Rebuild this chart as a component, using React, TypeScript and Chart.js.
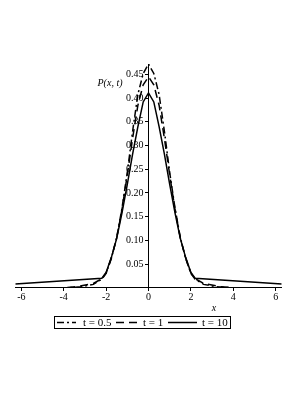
import React, { useEffect, useRef } from 'react';
import { Chart, registerables } from 'chart.js';

Chart.register(...registerables);

const seriesLabels = ['t = 0.5', 't = 1', 't = 10'];

const xT05 = [-6.283, -3.8, -3.2, -2.6, -2.2, -2.0, -1.75, -1.5, -1.25, -1.0, -0.75, -0.5, -0.25, 0, 0.25, 0.5, 0.75, 1.0, 1.25, 1.5, 1.75, 2.0, 2.2, 2.6, 3.2, 3.8, 6.283];
const yT05 = [0, 0, 0.002, 0.007, 0.018, 0.03, 0.062, 0.106, 0.168, 0.243, 0.33, 0.408, 0.452, 0.472, 0.452, 0.408, 0.33, 0.243, 0.168, 0.106, 0.062, 0.03, 0.018, 0.007, 0.002, 0, 0];

const xT1 = [-6.283, -4.0, -3.4, -2.6, -2.2, -2.0, -1.75, -1.5, -1.25, -1.0, -0.75, -0.5, -0.25, 0, 0.25, 0.5, 0.75, 1.0, 1.25, 1.5, 1.75, 2.0, 2.2, 2.6, 3.4, 4.0, 6.283];
const yT1 = [0, 0, 0.002, 0.009, 0.019, 0.031, 0.063, 0.105, 0.165, 0.238, 0.315, 0.385, 0.428, 0.445, 0.428, 0.385, 0.315, 0.238, 0.165, 0.105, 0.063, 0.031, 0.019, 0.009, 0.002, 0, 0];

const xT10 = [-6.283, -2.2, -2.0, -1.75, -1.5, -1.25, -1.0, -0.75, -0.5, -0.25, 0, 0.25, 0.5, 0.75, 1.0, 1.25, 1.5, 1.75, 2.0, 2.2, 6.283];
const yT10 = [0.008, 0.02, 0.032, 0.064, 0.104, 0.158, 0.218, 0.282, 0.34, 0.392, 0.411, 0.392, 0.34, 0.282, 0.218, 0.158, 0.104, 0.064, 0.032, 0.02, 0.008];

const xMin = -6.283;
const xMax = 6.283;
const yMin = 0;
const yMax = 0.472;
const xTickStep = 2;
const yTickStep = 0.05;

const yAxisLabel = 'P(x, t)';
const xAxisLabel = 'x';

const toPoints = (xs: number[], ys: number[]) => xs.map((x, i) => ({ x, y: ys[i] }));

const dashes = [[7, 3, 2, 3], [8, 5], []];

const decorPlugin = {
  id: 'decor',
  afterDraw(chart: any) {
    const ctx = chart.ctx as CanvasRenderingContext2D;
    ctx.save();
    ctx.fillStyle = '#000';
    ctx.strokeStyle = '#000';
    ctx.font = 'italic 10px "Liberation Serif"';
    ctx.textAlign = 'center';
    ctx.textBaseline = 'middle';
    ctx.fillText(yAxisLabel, 110, 83);
    ctx.fillText(xAxisLabel, 214, 308);
    ctx.lineWidth = 1;
    ctx.setLineDash([]);
    ctx.strokeRect(54.5, 316.5, 176, 12);
    const lineSeg = [[57, 76], [116, 137], [168, 197]];
    const textX = [83, 143, 202];
    ctx.font = '11px "Liberation Serif"';
    ctx.textAlign = 'left';
    chart.data.datasets.forEach((ds: any, i: number) => {
      ctx.save();
      ctx.lineWidth = 1.5;
      ctx.setLineDash(ds.borderDash || []);
      ctx.beginPath();
      ctx.moveTo(lineSeg[i][0], 322.5);
      ctx.lineTo(lineSeg[i][1], 322.5);
      ctx.stroke();
      ctx.restore();
      ctx.fillText(ds.label, textX[i], 323);
    });
    ctx.restore();
  },
};

export default function App() {
  const ref = useRef<HTMLCanvasElement>(null);
  useEffect(() => {
    if (!ref.current) return;
    const chart = new Chart(ref.current, {
      type: 'line',
      data: {
        datasets: [
          { label: seriesLabels[0], data: toPoints(xT05, yT05) },
          { label: seriesLabels[1], data: toPoints(xT1, yT1) },
          { label: seriesLabels[2], data: toPoints(xT10, yT10) },
        ].map((d, i) => ({
          ...d,
          borderColor: '#000',
          backgroundColor: '#000',
          borderWidth: 1.5,
          borderDash: dashes[i],
          pointRadius: 0,
          tension: 0,
          fill: false,
        })),
      },
      options: {
        responsive: false,
        animation: false,
        layout: { padding: { left: 15.3, right: 23.3, top: 64, bottom: 107.3 } },
        plugins: { legend: { display: false }, tooltip: { enabled: false }, title: { display: false } },
        scales: {
          x: {
            type: 'linear',
            position: { y: 0 } as any,
            min: xMin,
            max: xMax,
            grid: { display: true, drawOnChartArea: false, drawTicks: true, tickLength: 3, color: '#000' },
            border: { display: true, color: '#000', width: 1 },
            ticks: {
              stepSize: xTickStep,
              includeBounds: false,
              padding: 1,
              color: '#000',
              font: { family: '"Liberation Serif"', size: 10 },
              maxRotation: 0,
              callback: (v: any) => String(v),
            },
          },
          y: {
            type: 'linear',
            position: { x: 0 } as any,
            min: yMin,
            max: yMax,
            grid: { display: true, drawOnChartArea: false, drawTicks: true, tickLength: 3, color: '#000' },
            border: { display: true, color: '#000', width: 1 },
            ticks: {
              stepSize: yTickStep,
              includeBounds: false,
              padding: 3,
              color: '#000',
              font: { family: '"Liberation Serif"', size: 10 },
              callback: (v: any) => (Math.abs(Number(v)) < 1e-9 ? '' : Number(v).toFixed(2) + '  '),
            },
          },
        },
      },
      plugins: [decorPlugin],
    });
    return () => chart.destroy();
  }, []);
  return (
    <div style={{ position: 'absolute', left: 0, top: 0, width: 305, height: 395, background: '#fff' }}>
      <canvas ref={ref} width={305} height={395} style={{ display: 'block' }} />
    </div>
  );
}
